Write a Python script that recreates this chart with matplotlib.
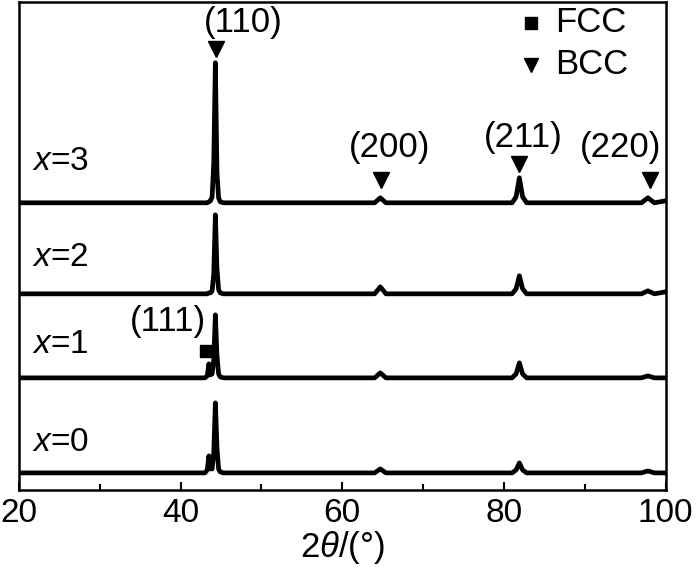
import matplotlib.pyplot as plt

plt.rcParams['font.family'] = ['Liberation Sans', 'DejaVu Sans']
plt.rcParams['mathtext.fontset'] = 'custom'
plt.rcParams['mathtext.it'] = 'Liberation Sans:italic'
plt.rcParams['mathtext.rm'] = 'Liberation Sans'

# key points of each pattern (2theta, intensity above baseline)
two_theta = [20, 43.0, 43.3, 43.5, 43.7, 43.9, 44.1, 44.3, 44.5, 44.7, 44.9, 45.3,
             64.0, 64.7, 65.4, 81.0, 81.5, 81.9, 82.3, 82.8, 97.0, 97.8, 98.6, 100]
sample_labels = ['x=0', 'x=1', 'x=2', 'x=3']
baselines = [17, 112, 196, 287]
intensity = {
    'x=0': [0, 0, 3, 17, 4, 4, 20, 70, 25, 4, 1, 0, 0, 4, 0, 0, 3, 10, 3, 0, 0, 2, 0, 0],
    'x=1': [0, 0, 2, 14, 3, 4, 18, 63, 22, 4, 1, 0, 0, 5, 0, 0, 4, 15, 4, 0, 0, 2, 0, 0],
    'x=2': [0, 0, 0, 1, 1, 3, 20, 79, 25, 4, 1, 0, 0, 7, 0, 0, 5, 18, 5, 0, 0, 3, 0, 2],
    'x=3': [0, 0, 0, 1, 2, 6, 40, 140, 30, 5, 1, 0, 0, 5, 0, 0, 6, 25, 6, 0, 0, 5, 0, 2],
}

# reflection markers (2theta, height) and hkl labels
bcc_marks = [(44.4, 441), (64.8, 310), (81.9, 326), (98.1, 310)]
bcc_labels = [('(110)', 47.7, 467), ('(200)', 65.9, 342), ('(211)', 82.4, 352), ('(220)', 94.4, 342)]
fcc_mark = (43.2, 139)
fcc_label = ('(111)', 38.4, 168)
label_y = [47, 145, 232, 328]

# legend (drawn by hand)
legend_items = [('FCC', 's', 467), ('BCC', 'v', 425)]

fig = plt.figure(figsize=(7, 5.73), dpi=100)
ax = fig.add_axes([0.027, 0.145, 0.924, 0.852])

for name, base in zip(sample_labels, baselines):
    ys = [base + v for v in intensity[name]]
    ax.plot(two_theta, ys, color='black', lw=3.4, solid_joinstyle='round')

for xm, ym in bcc_marks:
    ax.plot(xm, ym, marker='v', color='black', ms=11, ls='none')
ax.plot(fcc_mark[0], fcc_mark[1], marker='s', color='black', ms=9, ls='none')

for txt, xt, yt in bcc_labels + [fcc_label]:
    ax.text(xt, yt, txt, fontsize=25, ha='center', va='center')

for name, yl in zip(sample_labels, label_y):
    ax.text(21.6, yl, '$x$=' + name[2:], fontsize=24, ha='left', va='center')

for txt, mk, yl in legend_items:
    ax.plot(83.4, yl, marker=mk, color='black', ms=8 if mk == 's' else 9.5, ls='none')
    ax.text(86.3, yl, txt, fontsize=25, ha='left', va='center')

ax.set_xlim(20, 100)
ax.set_ylim(0, 488)
ax.set_xticks([20, 40, 60, 80, 100])
ax.set_xticks([30, 50, 70, 90], minor=True)
ax.set_yticks([])
ax.tick_params(axis='x', direction='in', labelsize=24, length=6, width=1.5, pad=6)
ax.tick_params(axis='x', which='minor', direction='in', length=4, width=1.5)
for s in ax.spines.values():
    s.set_linewidth(1.8)
ax.set_xlabel(r'2$\theta$/(°)', fontsize=25, labelpad=0)

fig.savefig('out.png', dpi=100)
